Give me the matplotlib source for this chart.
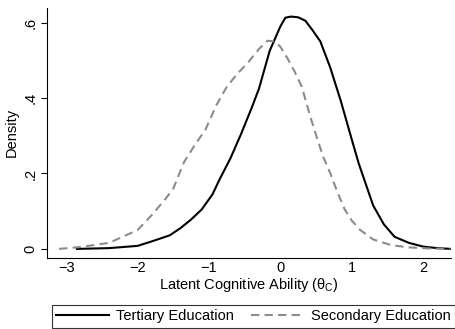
import matplotlib
matplotlib.use("Agg")
import matplotlib.pyplot as plt

plt.rcParams['font.family'] = ['Liberation Sans', 'DejaVu Sans']

# density curves
tert_x = [-2.85, -2.4, -2.0, -1.8, -1.55, -1.4, -1.25, -1.1, -0.95, -0.85, -0.7,
          -0.55, -0.4, -0.3, -0.15, 0.0, 0.07, 0.15, 0.25, 0.35, 0.45, 0.56, 0.7,
          0.85, 1.0, 1.1, 1.2, 1.3, 1.45, 1.6, 1.8, 2.0, 2.2, 2.38]
tert_y = [0.0, 0.002, 0.008, 0.02, 0.036, 0.055, 0.078, 0.105, 0.145, 0.185, 0.24,
          0.305, 0.375, 0.425, 0.525, 0.59, 0.613, 0.616, 0.614, 0.605, 0.58, 0.55, 0.48,
          0.39, 0.29, 0.225, 0.17, 0.115, 0.065, 0.032, 0.016, 0.006, 0.002, 0.0]

sec_x = [-3.1, -2.8, -2.4, -2.0, -1.8, -1.6, -1.5, -1.35, -1.2, -1.05, -0.9, -0.75,
         -0.6, -0.45, -0.3, -0.18, -0.08, 0.0, 0.1, 0.2, 0.3, 0.42, 0.52, 0.6, 0.7,
         0.8, 0.9, 1.0, 1.12, 1.3, 1.55, 1.8, 2.1, 2.38]
sec_y = [0.0, 0.005, 0.016, 0.05, 0.09, 0.135, 0.16, 0.23, 0.275, 0.316, 0.38, 0.43,
         0.465, 0.495, 0.53, 0.552, 0.55, 0.536, 0.505, 0.47, 0.43, 0.35, 0.29, 0.244, 0.2,
         0.15, 0.105, 0.075, 0.05, 0.025, 0.01, 0.004, 0.001, 0.0]

xticks = [-3, -2, -1, 0, 1, 2]
yticks = [0, 0.2, 0.4, 0.6]
ytick_labels = ['0', '.2', '.4', '.6']

fs = 10.5

fig = plt.figure(figsize=(4.56, 3.29), dpi=100)
ax = fig.add_axes([0.103, 0.216, 0.886, 0.76])

ax.plot(tert_x, tert_y, color='black', lw=1.5, label='Tertiary Education')
ax.plot(sec_x, sec_y, color='#8c8c8c', lw=1.5, ls=(0, (4, 2.5)), label='Secondary Education')

ax.set_xlim(-3.27, 2.39)
ax.set_ylim(-0.024, 0.639)
ax.set_xticks(xticks)
ax.set_yticks(yticks)
ax.set_yticklabels(ytick_labels, rotation=90, va='center')
ax.tick_params(axis='x', length=0, pad=2, labelsize=fs)
ax.tick_params(axis='y', length=4, width=0.8, pad=3, labelsize=fs)
for s in ['top', 'right']:
    ax.spines[s].set_visible(False)
for s in ['left', 'bottom']:
    ax.spines[s].set_linewidth(0.8)

ax.set_xlabel('Latent Cognitive Ability ($\\mathregular{\\theta_C}$)', fontsize=fs, labelpad=1)
ax.set_ylabel('Density', fontsize=fs, labelpad=3)

leg = fig.legend(loc='lower center', bbox_to_anchor=(0.556, 0.0), ncol=2, fontsize=fs,
                 frameon=True, fancybox=False, edgecolor='black', handlelength=3.6,
                 handletextpad=0.5, columnspacing=1.2, borderpad=0.3, borderaxespad=0.1)
leg.get_frame().set_linewidth(0.8)

fig.savefig('out.png', dpi=100)
